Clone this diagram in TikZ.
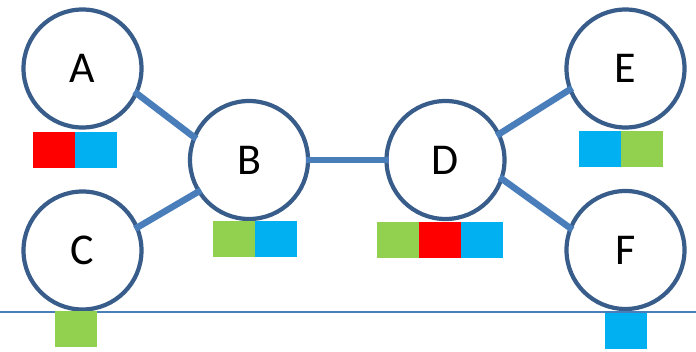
\documentclass[tikz,border=0pt]{standalone}
\usepackage{fontspec}
\setmainfont{Carlito}
\usetikzlibrary{positioning}
\definecolor{ringblue}{HTML}{385D8A}
\definecolor{linkblue}{HTML}{4A7EBB}
\definecolor{tagred}{HTML}{FF0000}
\definecolor{tagblue}{HTML}{00B0F0}
\definecolor{taggreen}{HTML}{92D050}

\begin{document}
\begin{tikzpicture}[x=1pt,y=1pt,node distance=0pt,
 v/.style={circle,draw=ringblue,line width=4.2pt,fill=white,minimum size=118pt,inner sep=0pt,font=\fontsize{44}{50}\selectfont},
 tag/.style={minimum width=42pt,minimum height=36pt,inner sep=0pt,outer sep=0pt},
 link/.style={draw=linkblue,line width=6.5pt,shorten <=-4.5pt,shorten >=-4.5pt}]
\useasboundingbox (0,0) rectangle (696,-351);
% vertices
\node[v] (A) at (82.5,-68.5) {A};
\node[v] (B) at (249,-160) {B};
\node[v] (C) at (82.5,-250.5) {C};
\node[v] (D) at (445.5,-160) {D};
\node[v] (E) at (625.5,-68.5) {E};
\node[v] (F) at (625.5,-250) {F};
% ground line
\coordinate (gl) at (0,-311.8);
\coordinate (gr) at (696,-311.8);
\draw[linkblue,line width=1.8pt] (gl)--(gr);
% links
\draw[link] (A.-25)--(B.157);
\draw[link] (C.23)--(B.212);
\draw[link] (B.east)--(D.west);
\draw[link] (D.26)--(E.201);
\draw[link] (D.-19)--(F.158);
% colour tags
\node[tag,fill=tagred] (a1) at (54,-150) {};
\node[tag,fill=tagblue,right=of a1] (a2) {};
\node[tag,fill=taggreen] (b1) at (234,-238.5) {};
\node[tag,fill=tagblue,right=of b1] (b2) {};
\node[tag,fill=taggreen] (c1) at (76,-328.5) {};
\node[tag,fill=taggreen] (d1) at (398,-240) {};
\node[tag,fill=tagred,right=of d1] (d2) {};
\node[tag,fill=tagblue,right=of d2] (d3) {};
\node[tag,fill=tagblue] (e1) at (600,-149) {};
\node[tag,fill=taggreen,right=of e1] (e2) {};
\node[tag,fill=tagblue] (f1) at (626,-330.5) {};
\end{tikzpicture}
\end{document}
